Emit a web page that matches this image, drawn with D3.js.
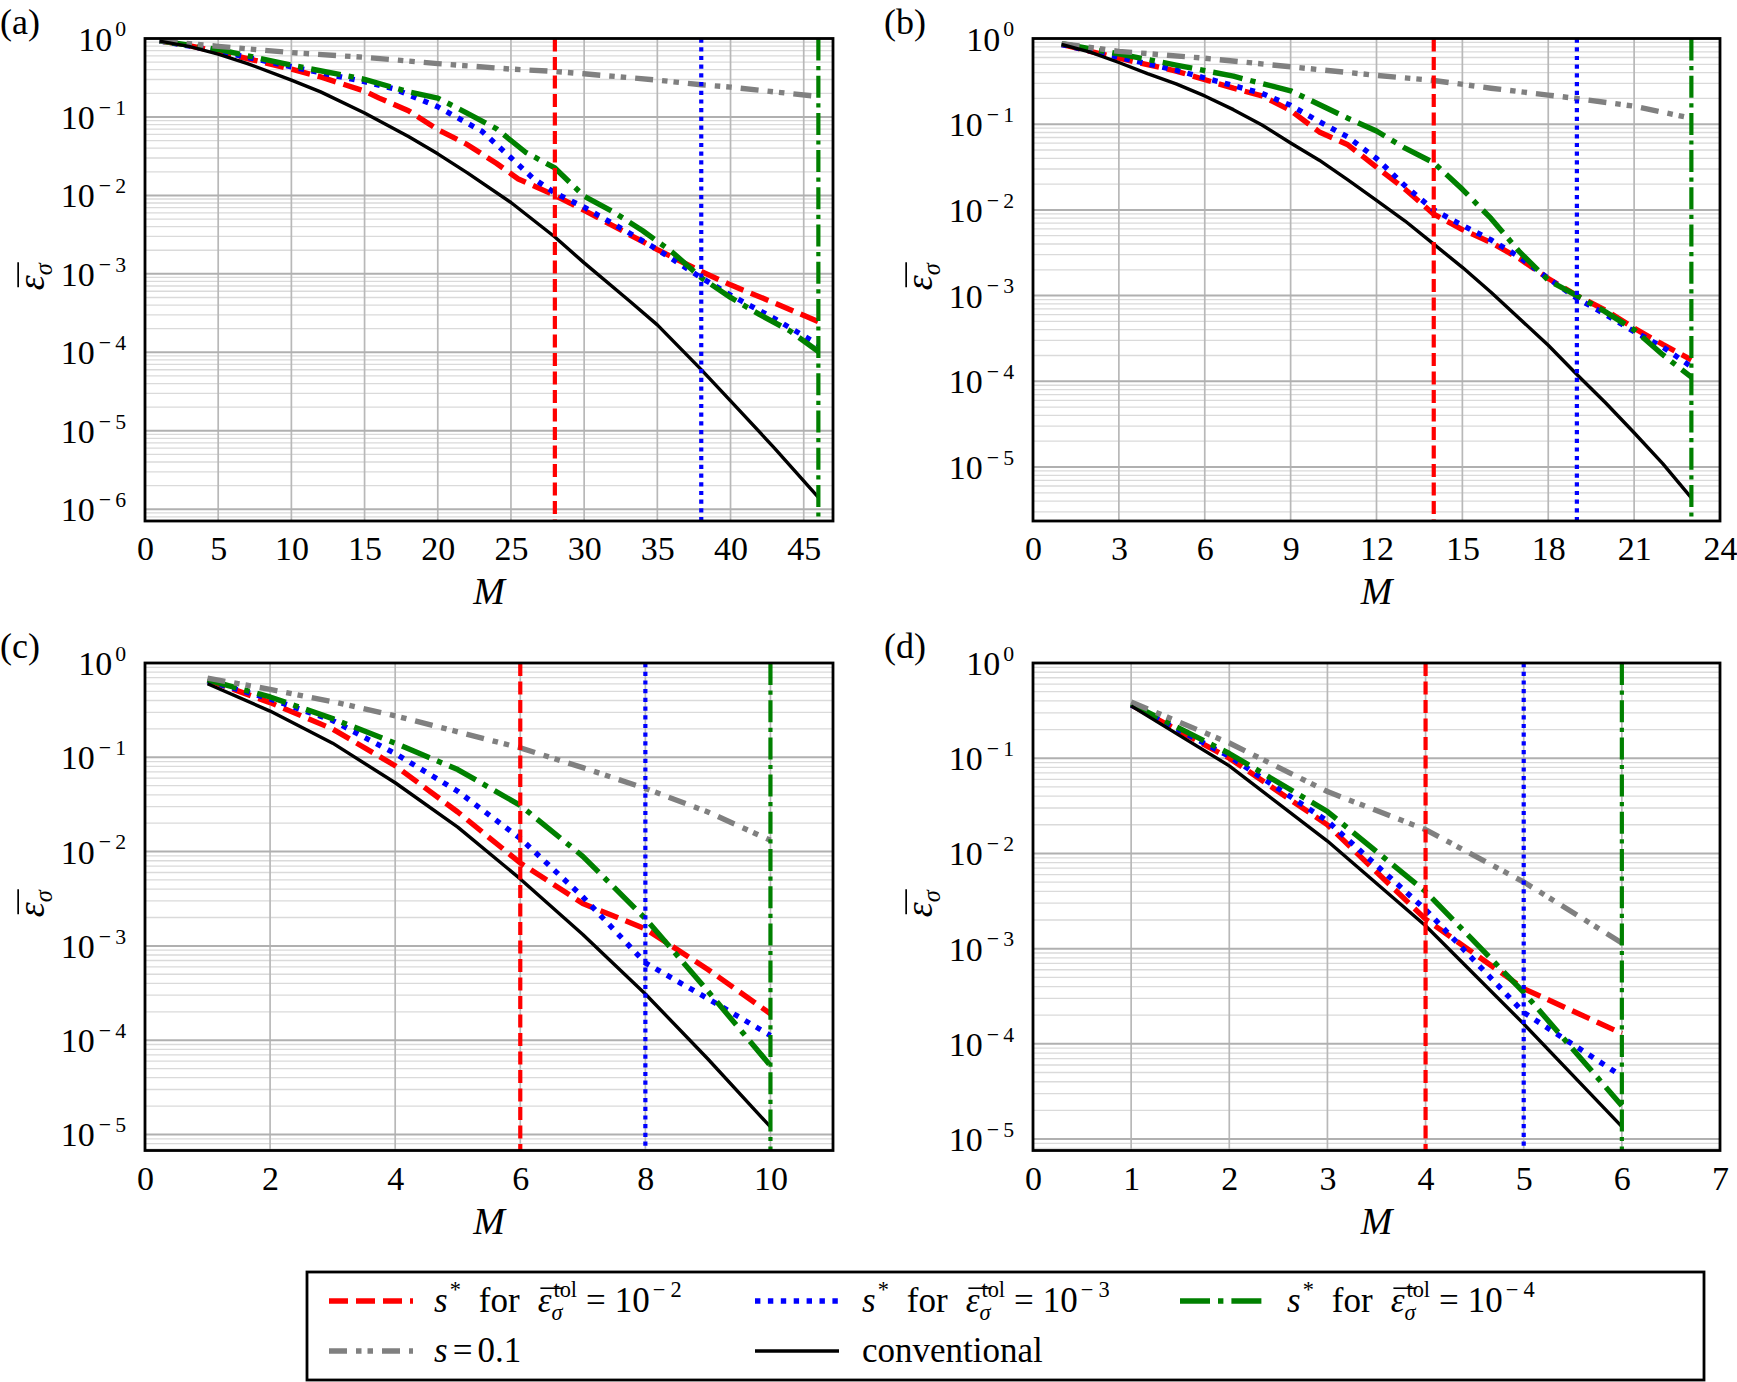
<!DOCTYPE html>
<html>
<head>
<meta charset="utf-8">
<script src="https://cdn.jsdelivr.net/npm/d3@7"></script>
<style>
  body { margin: 0; background: #fff; }
</style>
</head>
<body>
<svg id="fig" width="1737" height="1382"></svg>
<script>
// ---- data: [M, log10(mean error)] ----
const panelTags = ["(a)", "(b)", "(c)", "(d)"];
const xMax = [47, 24, 11, 7];
const xTicks = [
  [0, 5, 10, 15, 20, 25, 30, 35, 40, 45],
  [0, 3, 6, 9, 12, 15, 18, 21, 24],
  [0, 2, 4, 6, 8, 10],
  [0, 1, 2, 3, 4, 5, 6, 7]
];
const yBottomExp = [-6.15, -5.63, -5.17, -5.12];
const yTickExp = [
  [0, -1, -2, -3, -4, -5, -6],
  [0, -1, -2, -3, -4, -5],
  [0, -1, -2, -3, -4, -5],
  [0, -1, -2, -3, -4, -5]
];
// M at which s* for tol 1e-2, 1e-3, 1e-4 is reached
const sStarM = [[28, 38, 46], [14, 19, 23], [6, 8, 10], [4, 5, 6]];

// panel (a)
const a_red = [[1,-0.03],[3,-0.09],[5,-0.17],[8,-0.30],[10,-0.39],[12,-0.49],[15,-0.67],[16,-0.76],[18,-0.92],[20,-1.16],[22,-1.35],[24,-1.59],[25.5,-1.79],[28,-2.00],[30,-2.19],[33,-2.49],[35,-2.69],[38,-2.97],[40,-3.14],[43,-3.37],[46,-3.61]];
const a_blue = [[1,-0.03],[5,-0.16],[10,-0.36],[15,-0.55],[17,-0.64],[20,-0.87],[23,-1.18],[25,-1.52],[26.5,-1.78],[28,-1.97],[30,-2.15],[33,-2.47],[35,-2.69],[38,-3.05],[40,-3.27],[43,-3.57],[46,-3.90]];
const a_green = [[1,-0.03],[5,-0.14],[10,-0.34],[15,-0.52],[18,-0.68],[20,-0.76],[22,-0.95],[24,-1.15],[26,-1.45],[28,-1.65],[30,-2.01],[32,-2.21],[34,-2.45],[36,-2.72],[38,-3.05],[40,-3.30],[42,-3.52],[44,-3.72],[46,-3.99]];
const a_gray = [[1,-0.03],[5,-0.10],[10,-0.18],[15,-0.24],[20,-0.32],[25,-0.39],[28,-0.42],[30,-0.45],[35,-0.53],[38,-0.59],[40,-0.62],[46,-0.74]];
const a_conv = [[1,-0.034],[3,-0.10],[5,-0.20],[7,-0.32],[10,-0.53],[12,-0.68],[15,-0.95],[18,-1.25],[20,-1.47],[22,-1.71],[25,-2.09],[28,-2.53],[30,-2.86],[33,-3.33],[35,-3.65],[38,-4.22],[40,-4.62],[43,-5.22],[46,-5.85]];

// panel (b)
const b_red = [[1,-0.07],[3,-0.23],[5,-0.38],[7,-0.58],[8,-0.67],[9,-0.84],[10,-1.09],[11,-1.24],[12,-1.50],[13,-1.76],[14,-2.05],[15,-2.23],[16,-2.38],[17,-2.57],[18,-2.80],[19,-3.00],[20,-3.17],[21,-3.38],[22,-3.57],[23,-3.75]];
const b_blue = [[1,-0.07],[3,-0.22],[5,-0.37],[7,-0.55],[8,-0.64],[9,-0.78],[10,-0.97],[11,-1.15],[12,-1.40],[13,-1.72],[14,-2.00],[15,-2.18],[16,-2.35],[17,-2.55],[18,-2.80],[19,-3.03],[20,-3.22],[21,-3.42],[22,-3.60],[23,-3.83]];
const b_green = [[1,-0.06],[3,-0.18],[5,-0.31],[7,-0.44],[9,-0.61],[10,-0.77],[11,-0.93],[12,-1.08],[13,-1.28],[14,-1.45],[15,-1.76],[16,-2.10],[17,-2.49],[18,-2.82],[19,-3.00],[20,-3.19],[21,-3.40],[22,-3.69],[23,-3.95]];
const b_gray = [[1,-0.06],[3,-0.15],[6,-0.23],[9,-0.33],[12,-0.43],[14,-0.49],[16,-0.58],[18,-0.66],[19,-0.70],[21,-0.79],[23,-0.93]];
const b_conv = [[1,-0.07],[2,-0.16],[3,-0.28],[4,-0.41],[5,-0.53],[6,-0.67],[7,-0.83],[8,-1.01],[9,-1.22],[10,-1.42],[11,-1.65],[12,-1.89],[13,-2.13],[14,-2.40],[15,-2.67],[16,-2.96],[17,-3.27],[18,-3.58],[19,-3.92],[20,-4.25],[21,-4.60],[22,-4.96],[23,-5.36]];

// panel (c)
const c_red = [[1,-0.18],[2,-0.42],[3,-0.70],[4,-1.09],[5,-1.58],[6,-2.12],[7,-2.55],[8,-2.82],[9,-3.25],[10,-3.72]];
const c_blue = [[1,-0.19],[2,-0.38],[3,-0.61],[4,-0.96],[5,-1.36],[6,-1.86],[7,-2.48],[8,-3.18],[9,-3.56],[10,-3.95]];
const c_green = [[1,-0.18],[2,-0.36],[3,-0.59],[4,-0.85],[5,-1.13],[6,-1.51],[7,-2.05],[8,-2.71],[9,-3.48],[10,-4.27]];
const c_gray = [[1,-0.16],[2,-0.28],[3,-0.41],[4,-0.56],[5,-0.73],[6,-0.90],[7,-1.11],[8,-1.33],[9,-1.58],[10,-1.88]];
const c_conv = [[1,-0.22],[2,-0.51],[3,-0.85],[4,-1.27],[5,-1.74],[6,-2.29],[7,-2.88],[8,-3.51],[9,-4.20],[10,-4.92]];

// panel (d)
const d_red = [[1,-0.44],[2,-1.00],[3,-1.70],[4,-2.69],[5,-3.42],[6,-3.89]];
const d_blue = [[1,-0.44],[2,-0.98],[3,-1.66],[4,-2.59],[5,-3.67],[6,-4.34]];
const d_green = [[1,-0.43],[2,-0.95],[3,-1.56],[4,-2.40],[5,-3.46],[6,-4.65]];
const d_gray = [[1,-0.41],[2,-0.84],[3,-1.35],[4,-1.75],[5,-2.30],[6,-2.94]];
const d_conv = [[1,-0.45],[2,-1.08],[3,-1.87],[4,-2.76],[5,-3.79],[6,-4.87]];

const panelSeries = [
  [a_red, a_blue, a_green, a_gray, a_conv],
  [b_red, b_blue, b_green, b_gray, b_conv],
  [c_red, c_blue, c_green, c_gray, c_conv],
  [d_red, d_blue, d_green, d_gray, d_conv]
];
const tolExp = ["2", "3", "4"];

// ---- styles / layout ----
const FONT = "'Liberation Serif', 'Times New Roman', serif";
const styles = [
  { color: "#ff0000", width: 5.4, dash: "19,8" },
  { color: "#0000ff", width: 5.4, dash: "5.4,7.5" },
  { color: "#008000", width: 5.4, dash: "30,8,5.4,8" },
  { color: "#808080", width: 5.4, dash: "18,9,5.5,6,5.5,9" },
  { color: "#000000", width: 3.4, dash: null }
];
const vStyles = [
  { color: "#ff0000", width: 4.2, dash: "13,5.5" },
  { color: "#0000ff", width: 4.2, dash: "4.2,4.5" },
  { color: "#008000", width: 4.2, dash: "22,5.5,4.2,5.5" }
];
const boxes = [
  { x0: 145, x1: 833, y0: 38.5, y1: 521, tagX: 0, tagY: 34 },
  { x0: 1033, x1: 1720, y0: 38.5, y1: 521, tagX: 884, tagY: 34 },
  { x0: 145, x1: 833, y0: 663, y1: 1150.5, tagX: 0, tagY: 658 },
  { x0: 1033, x1: 1720, y0: 663, y1: 1150.5, tagX: 884, tagY: 658 }
];
const FS = 34;

const svg = d3.select("#fig").style("font-family", FONT);
svg.append("rect").attr("width", 1737).attr("height", 1382).attr("fill", "#fff");

// draw a row of text pieces (math-ish), returns total width
function rich(g, parts, fs) {
  let x = 0, holdEnd = null, barX = null;
  parts.forEach(p => {
    const small = p.sup || p.sub;
    const size = small ? fs * 0.64 : fs;
    const yOff = p.sup ? -fs * 0.42 : p.sub ? fs * 0.22 : 0;
    const x0 = x + (p.dx || 0);
    const el = g.append("text")
      .attr("x", x0).attr("y", yOff)
      .attr("font-size", size)
      .style("font-family", FONT)
      .style("font-style", p.it ? "italic" : "normal")
      .text(p.t);
    const w = el.node().getComputedTextLength();
    if (p.barFrom) barX = x0 + w * 0.2;
    if (p.barTo) {
      g.append("line")
        .attr("x1", barX).attr("x2", x0 + w + 1)
        .attr("y1", -fs * 0.68).attr("y2", -fs * 0.68)
        .attr("stroke", "#000").attr("stroke-width", fs * 0.045);
    }
    if (p.hold) {
      holdEnd = x0 + w;
    } else {
      x = Math.max(x0 + w, holdEnd || 0);
      holdEnd = null;
    }
  });
  return Math.max(x, holdEnd || 0);
}

function drawPanel(i) {
  const b = boxes[i];
  const x = d3.scaleLinear().domain([0, xMax[i]]).range([b.x0, b.x1]);
  const y = d3.scaleLog().domain([Math.pow(10, yBottomExp[i]), 1]).range([b.y1, b.y0]);
  const g = svg.append("g");

  const clipId = "clip" + i;
  g.append("clipPath").attr("id", clipId)
    .append("rect").attr("x", b.x0).attr("y", b.y0)
    .attr("width", b.x1 - b.x0).attr("height", b.y1 - b.y0);
  const plot = g.append("g").attr("clip-path", "url(#" + clipId + ")");

  // grid: minor log lines first, then major
  const isMajor = v => Math.abs(Math.log10(v) - Math.round(Math.log10(v))) < 1e-9;
  const minor = y.ticks().filter(v => !isMajor(v));
  plot.selectAll(".minor").data(minor).join("line")
    .attr("x1", b.x0).attr("x2", b.x1)
    .attr("y1", d => y(d)).attr("y2", d => y(d))
    .attr("stroke", "#dadada").attr("stroke-width", 1.3);
  plot.selectAll(".xgrid").data(xTicks[i]).join("line")
    .attr("x1", d => x(d)).attr("x2", d => x(d))
    .attr("y1", b.y0).attr("y2", b.y1)
    .attr("stroke", "#b8b8b8").attr("stroke-width", 1.7);
  plot.selectAll(".major").data(yTickExp[i]).join("line")
    .attr("x1", b.x0).attr("x2", b.x1)
    .attr("y1", d => y(Math.pow(10, d))).attr("y2", d => y(Math.pow(10, d)))
    .attr("stroke", "#b0b0b0").attr("stroke-width", 2);

  // curves
  const line = d3.line().x(d => x(d[0])).y(d => y(Math.pow(10, d[1])));
  panelSeries[i].forEach((s, k) => {
    plot.append("path").datum(s)
      .attr("d", line)
      .attr("fill", "none")
      .attr("stroke", styles[k].color)
      .attr("stroke-width", styles[k].width)
      .attr("stroke-dasharray", styles[k].dash)
      .attr("stroke-linejoin", "round");
  });

  // s* markers
  sStarM[i].forEach((m, k) => {
    plot.append("line")
      .attr("x1", x(m)).attr("x2", x(m))
      .attr("y1", b.y0).attr("y2", b.y1)
      .attr("stroke", vStyles[k].color)
      .attr("stroke-width", vStyles[k].width)
      .attr("stroke-dasharray", vStyles[k].dash);
  });

  // frame
  g.append("rect").attr("x", b.x0).attr("y", b.y0)
    .attr("width", b.x1 - b.x0).attr("height", b.y1 - b.y0)
    .attr("fill", "none").attr("stroke", "#000").attr("stroke-width", 2.8);

  // x axis labels
  const xa = g.append("g").attr("transform", "translate(0," + b.y1 + ")")
    .call(d3.axisBottom(x).tickValues(xTicks[i]).tickSize(0).tickFormat(d3.format("d")));
  xa.attr("font-family", null).attr("font-size", null);
  xa.select(".domain").remove();
  xa.selectAll("text").attr("y", 39).attr("dy", null)
    .attr("font-size", FS).style("font-family", FONT).style("fill", "#000");

  // y axis labels 10^k
  yTickExp[i].forEach(e => {
    const tg = g.append("g");
    const sup = e === 0 ? [{ t: "0", sup: true, dx: 3 }]
      : [{ t: "\u2212", sup: true, dx: 4 }, { t: String(-e), sup: true, dx: 4 }];
    const w = rich(tg, [{ t: "10" }].concat(sup), FS);
    tg.attr("transform", "translate(" + (b.x0 - 19 - w) + "," + (y(Math.pow(10, e)) + 12) + ")");
  });

  // axis titles
  g.append("text")
    .attr("x", (b.x0 + b.x1) / 2).attr("y", b.y1 + 83)
    .attr("text-anchor", "middle").attr("font-size", 38)
    .style("font-family", FONT).style("font-style", "italic").text("M");

  const yl = g.append("g");
  const wl = rich(yl, [{ t: "\u03b5", it: true, barFrom: true }, { t: "\u03c3", it: true, sub: true, barTo: true }], 38);
  yl.attr("transform", "translate(" + (b.x0 - 101) + "," + ((b.y0 + b.y1) / 2 - 3) + ") rotate(-90) translate(" + (-wl / 2) + ",0)");

  g.append("text").attr("x", b.tagX).attr("y", b.tagY)
    .attr("font-size", 36).style("font-family", FONT).text(panelTags[i]);
}

[0, 1, 2, 3].forEach(drawPanel);

// ---- legend ----
const lg = svg.append("g");
lg.append("rect").attr("x", 307).attr("y", 1272).attr("width", 1397).attr("height", 108)
  .attr("fill", "#fff").attr("stroke", "#000").attr("stroke-width", 2.8);

const legendPos = [
  { hx: 329, tx: 434, y: 1301 },
  { hx: 755, tx: 862, y: 1301 },
  { hx: 1180, tx: 1287, y: 1301 },
  { hx: 329, tx: 434, y: 1351 },
  { hx: 755, tx: 862, y: 1351 }
];
const legendText = [0, 1, 2].map(k => [
  { t: "s", it: true }, { t: "*", sup: true, dx: 2 },
  { t: "for", dx: 18 },
  { t: "\u03b5", it: true, dx: 18, barFrom: true },
  { t: "\u03c3", it: true, sub: true, hold: true, barTo: true },
  { t: "tol", sup: true, dx: 2 },
  { t: "=", dx: 9 },
  { t: "10", dx: 9 },
  { t: "\u2212", sup: true, dx: 3 }, { t: tolExp[k], sup: true, dx: 5 }
]).concat([
  [{ t: "s", it: true }, { t: "=", dx: 5 }, { t: "0.1", dx: 5 }],
  [{ t: "conventional" }]
]);

legendPos.forEach((p, k) => {
  lg.append("line")
    .attr("x1", p.hx).attr("x2", p.hx + 84)
    .attr("y1", p.y).attr("y2", p.y)
    .attr("stroke", styles[k].color)
    .attr("stroke-width", styles[k].width)
    .attr("stroke-dasharray", styles[k].dash);
  const tg = lg.append("g").attr("transform", "translate(" + p.tx + "," + (p.y + 11) + ")");
  rich(tg, legendText[k], 35);
});
</script>
</body>
</html>
